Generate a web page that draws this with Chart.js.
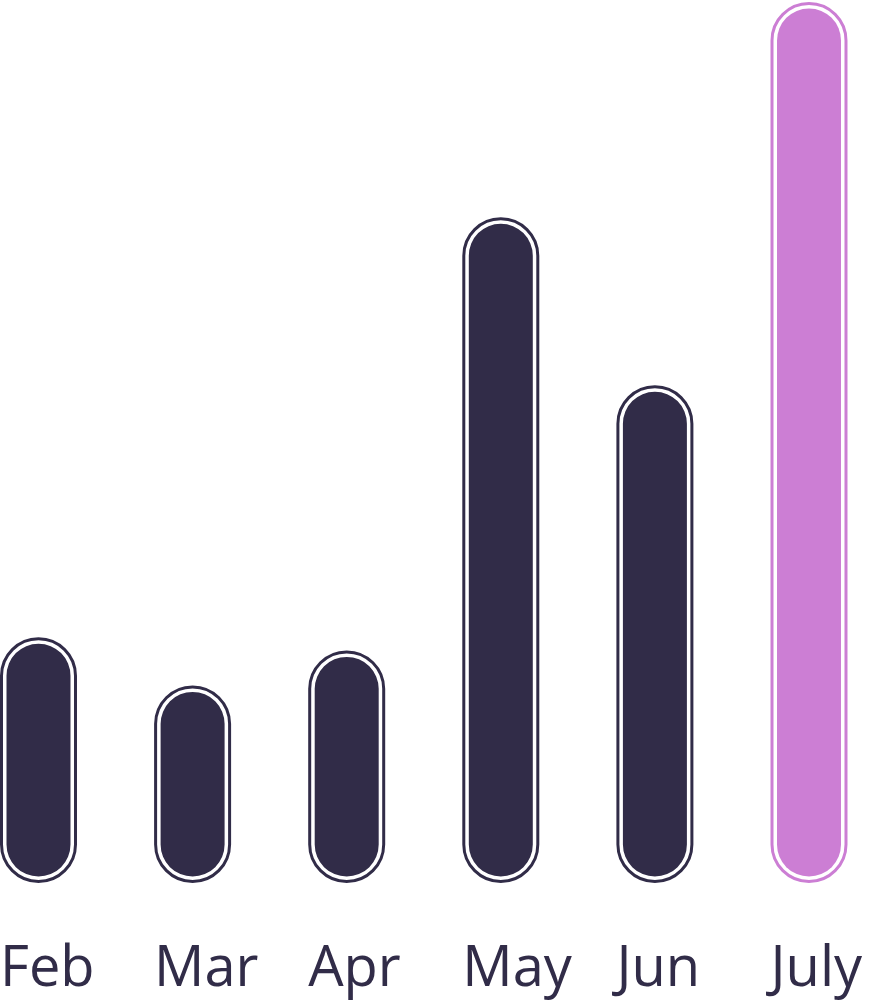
<!DOCTYPE html>
<html>
<head>
<meta charset="utf-8">
<script src="https://cdn.jsdelivr.net/npm/chart.js@4"></script>
<style>
  html, body { margin: 0; padding: 0; background: #fff; }
  #wrap { width: 876px; height: 1002px; }
</style>
</head>
<body>
<div id="wrap"><canvas id="bars"></canvas></div>
<script>
const months = ['Feb', 'Mar', 'Apr', 'May', 'Jun', 'July'];
const values = [27.4, 21.9, 25.9, 75.4, 56.2, 100];

const dark = '#312c48';
const pink = '#cc7ed4';
const colors = months.map((m, i) => i === months.length - 1 ? pink : dark);

// thin outline drawn just outside each bar, leaving the white border as a gap
const pillOutline = {
  id: 'pillOutline',
  afterDatasetsDraw(chart) {
    const c = chart.ctx;
    chart.getDatasetMeta(0).data.forEach((bar, i) => {
      const p = bar.getProps(['x', 'y', 'base', 'width'], true);
      const w = p.width + 3;
      const top = Math.min(p.y, p.base) - 1.5;
      const h = Math.abs(p.base - p.y) + 3;
      c.save();
      c.beginPath();
      c.roundRect(p.x - w / 2, top, w, h, w / 2);
      c.lineWidth = 3;
      c.strokeStyle = colors[i];
      c.stroke();
      c.restore();
    });
  }
};

const ctx = document.getElementById('bars').getContext('2d');

new Chart(ctx, {
  type: 'bar',
  data: {
    labels: months,
    datasets: [{
      data: values,
      backgroundColor: colors,
      borderColor: '#ffffff',
      borderWidth: 3.5,
      borderSkipped: false,
      borderRadius: 999,
      inflateAmount: 0,
      clip: false
    }]
  },
  options: {
    responsive: true,
    maintainAspectRatio: false,
    animation: false,
    layout: { padding: { left: 38.5, right: 67, top: 5, bottom: 0 } },
    datasets: {
      bar: { barPercentage: 1, categoryPercentage: 0.4607 }
    },
    plugins: { legend: { display: false }, tooltip: { enabled: false } },
    scales: {
      x: {
        offset: false,
        grid: { display: false, drawTicks: false },
        border: { display: false },
        ticks: {
          align: 'start',
          labelOffset: -38.5,
          padding: 56,
          color: dark,
          font: { family: 'Open Sans', size: 56 }
        },
        afterFit: s => { s.paddingLeft = 0; s.paddingRight = 0; s.height = 122; }
      },
      y: {
        display: false,
        min: 0,
        max: 100
      }
    }
  },
  plugins: [pillOutline]
});
</script>
</body>
</html>
